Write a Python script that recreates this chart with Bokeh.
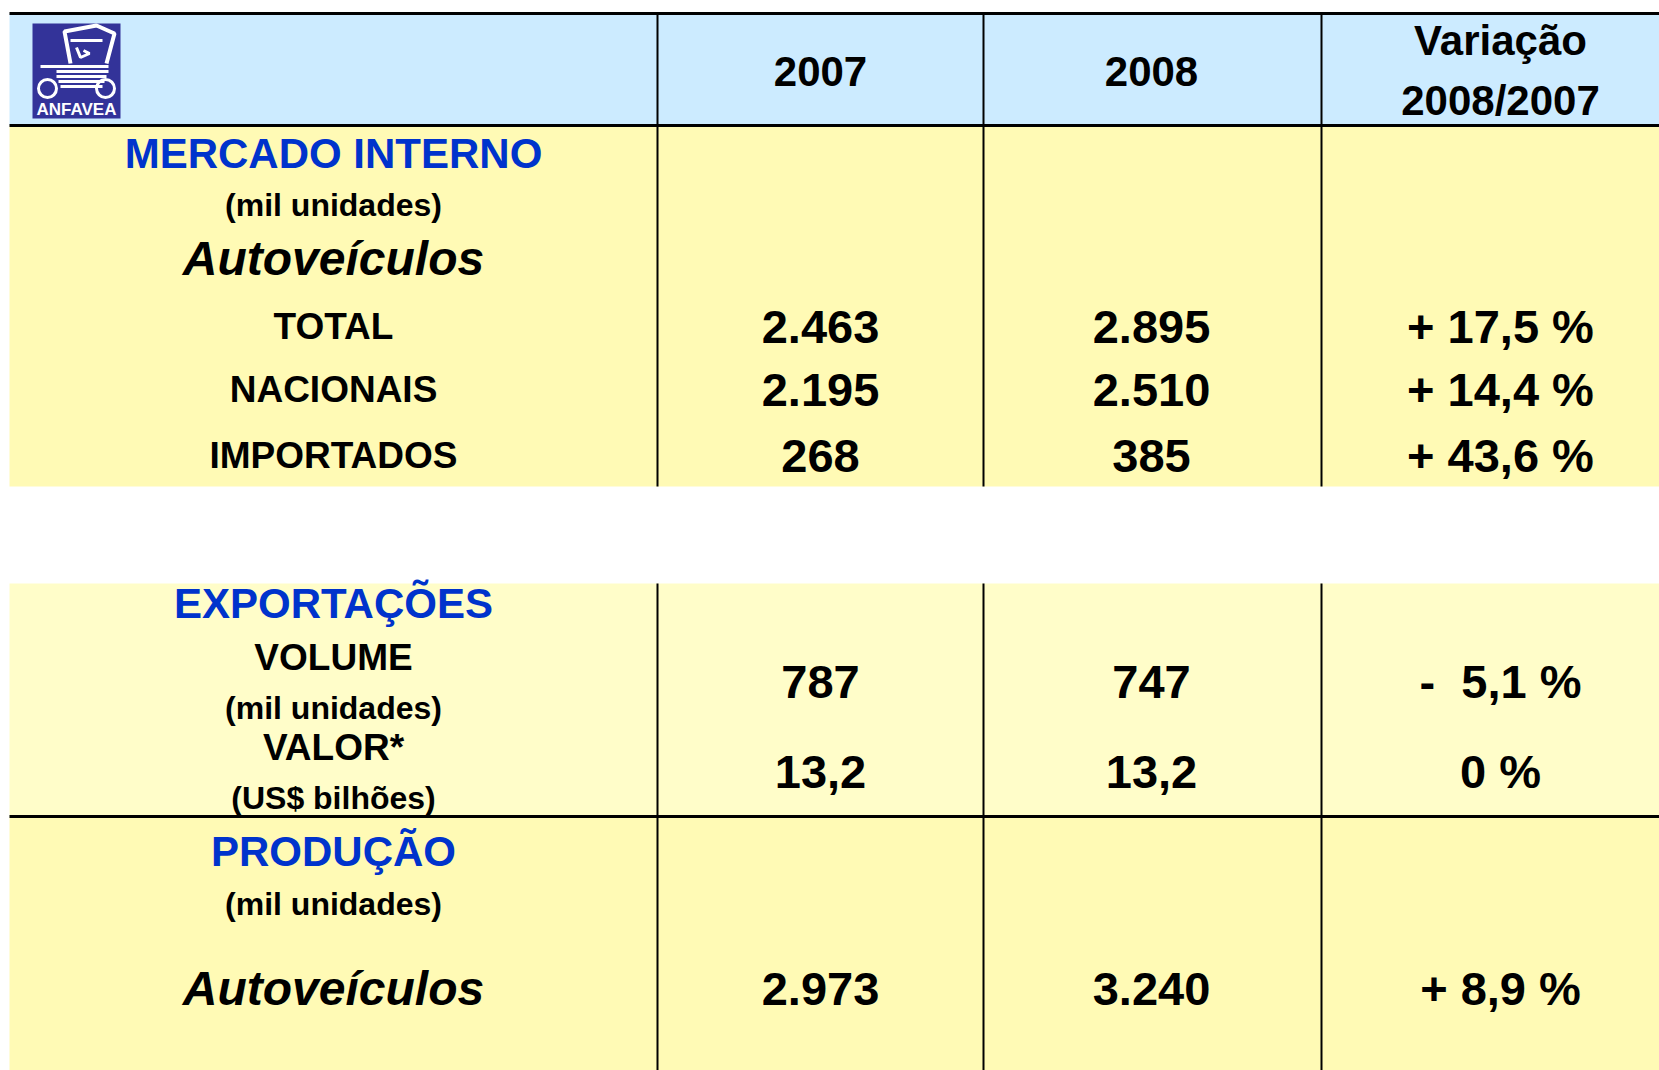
from bokeh.plotting import figure
from bokeh.models import Range1d
from bokeh.embed import file_html
from bokeh.resources import INLINE
from bokeh.core.properties import value

# ---- data ----
years = ["2007", "2008"]
var_header = ["Variação", "2008/2007"]
mi_title = ["MERCADO INTERNO", "(mil unidades)", "Autoveículos"]
mi_rows = ["TOTAL", "NACIONAIS", "IMPORTADOS"]
mi_2007 = ["2.463", "2.195", "268"]
mi_2008 = ["2.895", "2.510", "385"]
mi_var = ["+ 17,5 %", "+ 14,4 %", "+ 43,6 %"]
exp_title = ["EXPORTAÇÕES"]
exp_rows = ["VOLUME", "VALOR*"]
exp_units = ["(mil unidades)", "(US$ bilhões)"]
exp_2007 = ["787", "13,2"]
exp_2008 = ["747", "13,2"]
exp_var = ["-\u00a0\u00a05,1 %", "0 %"]
prod_title = ["PRODUÇÃO", "(mil unidades)", "Autoveículos"]
prod_2007 = ["2.973"]
prod_2008 = ["3.240"]
prod_var = ["+ 8,9 %"]

# ---- layout ----
W, H = 1659, 1070
p = figure(width=W, height=H, x_range=Range1d(0, W), y_range=Range1d(H, 0),
           output_backend="svg", toolbar_location=None, min_border=0)
p.axis.visible = False
p.grid.visible = False
p.outline_line_color = None
p.background_fill_color = "white"
p.border_fill_color = "white"

FONT = value("Liberation Sans")
BLUE = "#0033CC"
X0, X1 = 9, 1700
cols = [657, 983, 1321]
cx = [333, 820, 1151, 1500]

# backgrounds
p.quad(left=[X0] * 4, right=[X1] * 4,
       top=[13, 125, 583, 816], bottom=[125, 486, 816, 1080],
       fill_color=["#CCEBFF", "#FFFAB5", "#FFFDC9", "#FFFAB5"], line_color=None)

# lines
p.multi_line(xs=[[X0, X1], [X0, X1], [X0, X1]], ys=[[13, 13], [125, 125], [816, 816]],
             line_color="black", line_width=3)
p.multi_line(xs=[[c, c] for c in cols] * 2,
             ys=[[13, 486]] * 3 + [[583, 1080]] * 3,
             line_color="black", line_width=2)

def txt(x, y, s, size, color="black", style="bold", font=FONT):
    p.text(x=[x], y=[y], text=[s], text_font=font, text_font_size=f"{size}px",
           text_font_style=style, text_color=color, text_align="center",
           text_baseline="middle")

# logo
p.quad(left=[32], right=[120], top=[23], bottom=[118], fill_color="#333399", line_color=None)
p.line(x=[70, 64, 96, 114, 106], y=[63, 31, 25, 33, 63], line_color="white", line_width=4)
p.line(x=[70, 102], y=[40, 40], line_color="white", line_width=3)
p.line(x=[76, 80, 89, 83], y=[47, 57, 53, 50], line_color="white", line_width=3)
p.multi_line(xs=[[40, 108], [56, 108], [56, 106], [58, 104], [60, 102]],
             ys=[[66, 66], [71, 71], [76, 76], [81, 81], [86, 86]],
             line_color="white", line_width=3)
p.circle(x=[47, 105], y=[88, 88], radius=9, fill_color=None, line_color="white", line_width=3)
txt(76, 109, "ANFAVEA", 17, "white")

# header
txt(cx[1], 71, years[0], 42)
txt(cx[2], 71, years[1], 42)
txt(cx[3], 40, var_header[0], 42)
txt(cx[3], 100, var_header[1], 42)

# mercado interno
txt(cx[0], 153, mi_title[0], 42, BLUE)
txt(cx[0], 204, mi_title[1], 32)
txt(cx[0], 258, mi_title[2], 48, style="bold italic")
for i, y in enumerate([326, 389, 455]):
    txt(cx[0], y, mi_rows[i], 37)
    txt(cx[1], y, mi_2007[i], 47)
    txt(cx[2], y, mi_2008[i], 47)
    txt(cx[3], y, mi_var[i], 47)

# exportacoes
txt(cx[0], 603, exp_title[0], 42, BLUE)
txt(cx[0], 657, exp_rows[0], 37)
txt(cx[0], 707, exp_units[0], 32)
txt(cx[0], 747, exp_rows[1], 37)
txt(cx[0], 797, exp_units[1], 32)
for i, y in enumerate([681, 771]):
    txt(cx[1], y, exp_2007[i], 47)
    txt(cx[2], y, exp_2008[i], 47)
    txt(cx[3], y, exp_var[i], 47)

# producao
txt(cx[0], 851, prod_title[0], 42, BLUE)
txt(cx[0], 903, prod_title[1], 32)
txt(cx[0], 988, prod_title[2], 48, style="bold italic")
txt(cx[1], 988, prod_2007[0], 47)
txt(cx[2], 988, prod_2008[0], 47)
txt(cx[3], 988, prod_var[0], 47)

open("out.html", "w").write(file_html(p, INLINE))
